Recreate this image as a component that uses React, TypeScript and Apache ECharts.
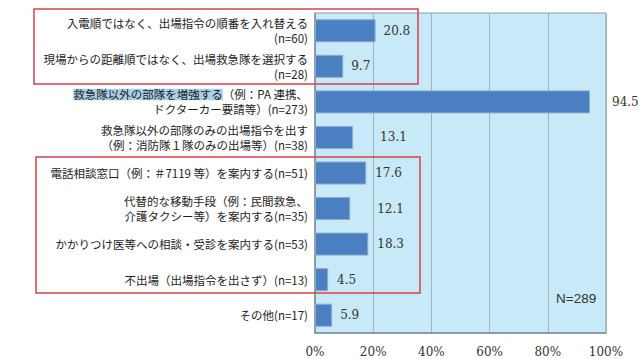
import React, { useEffect, useRef } from "react";
import * as echarts from "echarts";

const categories: string[] = [
  "入電順ではなく、出場指令の順番を入れ替える\n(n=60)",
  "現場からの距離順ではなく、出場救急隊を選択する\n(n=28)",
  "救急隊以外の部隊を増強する（例：PA 連携、\nドクターカー要請等）(n=273)",
  "救急隊以外の部隊のみの出場指令を出す\n（例：消防隊１隊のみの出場等）(n=38)",
  "電話相談窓口（例：＃7119 等）を案内する(n=51)",
  "代替的な移動手段（例：民間救急、\n介護タクシー等）を案内する(n=35)",
  "かかりつけ医等への相談・受診を案内する(n=53)",
  "不出場（出場指令を出さず）(n=13)",
  "その他(n=17)",
];
const highlighted = "救急隊以外の部隊を増強する";
const values: number[] = [20.8, 9.7, 94.5, 13.1, 17.6, 12.1, 18.3, 4.5, 5.9];
const xTicks: string[] = ["0%", "20%", "40%", "60%", "80%", "100%"];
const totalNote = "N=289";

const labelGaps = [8, 8, 22, 27, 9, 27, 9, 9, 8];

export default function App() {
  const ref = useRef<HTMLDivElement>(null);
  useEffect(() => {
    document.body.style.margin = "0";
    const chart = echarts.init(ref.current!, null, { renderer: "svg" });
    const cjk = '"Noto Sans CJK JP", "Noto Sans", sans-serif';
    const serif = '"DejaVu Serif", "Liberation Serif", serif';
    chart.setOption({
      animation: false,
      backgroundColor: "#ffffff",
      grid: {
        left: 315,
        right: 35,
        top: 13,
        bottom: 26,
        show: true,
        backgroundColor: "#c8e9f8",
        borderColor: "#8c9ba5",
        borderWidth: 1,
      },
      xAxis: {
        type: "value",
        min: 0,
        max: 100,
        interval: 20,
        axisLine: { show: true, lineStyle: { color: "#7f8f99", width: 1.5 } },
        axisTick: { show: false },
        splitLine: { show: true, lineStyle: { color: "#9fb3c0", width: 1 } },
        axisLabel: {
          margin: 13,
          fontFamily: serif,
          fontSize: 12,
          color: "#333",
          formatter: (v: number) => xTicks[Math.round(v / 20)],
        },
      },
      yAxis: {
        type: "category",
        inverse: true,
        data: categories,
        axisLine: { show: true, lineStyle: { color: "#7f8f99", width: 1.5 } },
        axisTick: { show: false },
        axisLabel: {
          margin: 7,
          fontFamily: cjk,
          fontSize: 11.5,
          lineHeight: 15,
          color: "#1e1e1e",
          align: "right",
          formatter: (v: string) => {
            if (v.startsWith(highlighted)) {
              return "{hl|" + highlighted + "}" + v.slice(highlighted.length);
            }
            return v;
          },
          rich: {
            hl: {
              fontFamily: cjk,
              fontSize: 11.5,
              lineHeight: 15,
              color: "#1e1e1e",
              backgroundColor: "#a9cfe9",
            },
          },
        },
      },
      series: [
        {
          type: "bar",
          barWidth: 23,
          data: values.map((v, i) => ({
            value: v,
            label: { distance: labelGaps[i] },
          })),
          itemStyle: { color: "#4a7fc1", borderColor: "#8eaacb", borderWidth: 1 },
          label: {
            show: true,
            position: "right",
            fontFamily: serif,
            fontSize: 12,
            color: "#333",
          },
        },
      ],
      graphic: [
        {
          type: "rect",
          shape: { x: 34, y: 9, width: 384, height: 75 },
          style: { fill: "none", stroke: "#d6404a", lineWidth: 1.5 },
          z: 100,
        },
        {
          type: "rect",
          shape: { x: 36, y: 157, width: 384, height: 136 },
          style: { fill: "none", stroke: "#d6404a", lineWidth: 1.5 },
          z: 100,
        },
        {
          type: "text",
          x: 556,
          y: 298,
          style: {
            text: totalNote,
            fontFamily: '"Liberation Sans", Arial, sans-serif',
            fontSize: 13.5,
            fill: "#333",
            verticalAlign: "middle",
          },
          z: 100,
        },
      ],
    });
    return () => chart.dispose();
  }, []);
  return <div ref={ref} style={{ width: 641, height: 359 }} />;
}
